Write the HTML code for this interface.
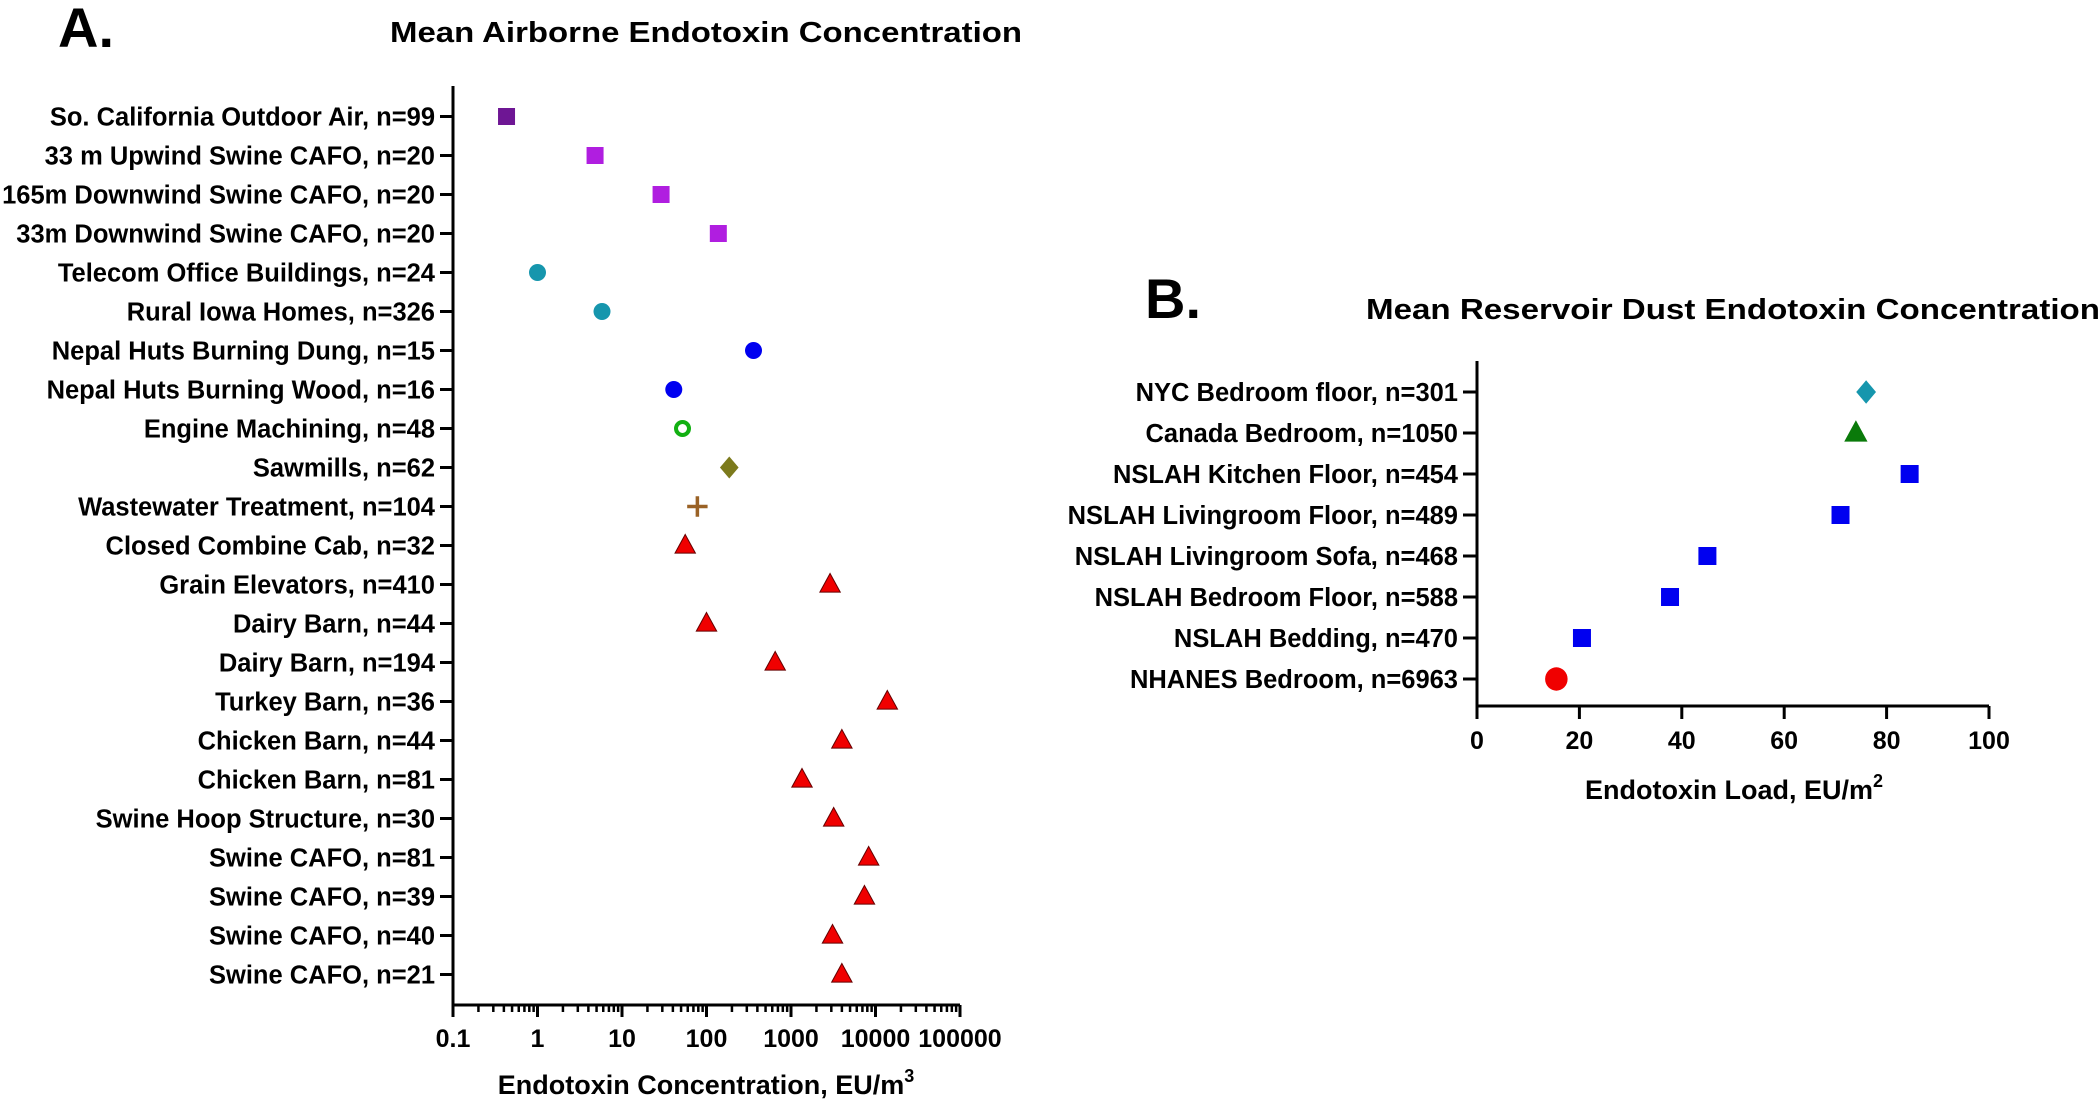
<!DOCTYPE html>
<html><head><meta charset="utf-8"><style>
html,body{margin:0;padding:0;background:#fff}
svg{display:block}
text{font-family:"Liberation Sans Narrow","Liberation Sans",sans-serif;font-weight:bold;fill:#000}
</style></head><body>
<svg id="s" width="2100" height="1100" viewBox="0 0 2100 1100" xmlns="http://www.w3.org/2000/svg">
<text x="58" y="47" font-size="56">A.</text>
<text x="390" y="42" font-size="29" textLength="632" lengthAdjust="spacingAndGlyphs">Mean Airborne Endotoxin Concentration</text>
<text x="1145" y="318" font-size="56">B.</text>
<text x="1366" y="319" font-size="29" textLength="734" lengthAdjust="spacingAndGlyphs">Mean Reservoir Dust Endotoxin Concentration</text>
<text x="706" y="1094" font-size="27" text-anchor="middle">Endotoxin Concentration, EU/m<tspan dy="-12" font-size="18">3</tspan></text>
<text x="1734" y="799" font-size="27" text-anchor="middle">Endotoxin Load, EU/m<tspan dy="-12" font-size="18">2</tspan></text>
<g id="ga"></g><g id="gb"></g>
</svg>
<script>
const aCats=["So. California Outdoor Air, n=99","33 m Upwind Swine CAFO, n=20","165m Downwind Swine CAFO, n=20","33m Downwind Swine CAFO, n=20","Telecom Office Buildings, n=24","Rural Iowa Homes, n=326","Nepal Huts Burning Dung, n=15","Nepal Huts Burning Wood, n=16","Engine Machining, n=48","Sawmills, n=62","Wastewater Treatment, n=104","Closed Combine Cab, n=32","Grain Elevators, n=410","Dairy Barn, n=44","Dairy Barn, n=194","Turkey Barn, n=36","Chicken Barn, n=44","Chicken Barn, n=81","Swine Hoop Structure, n=30","Swine CAFO, n=81","Swine CAFO, n=39","Swine CAFO, n=40","Swine CAFO, n=21"];
const aVals=[0.43,4.8,29,138,1.0,5.8,360,41,52,186,78,56,2900,100,650,13800,4000,1350,3200,8300,7400,3100,4000];
const aMarkers=["sq","sq","sq","sq","ci","ci","ci","ci","oc","di","pl","tr","tr","tr","tr","tr","tr","tr","tr","tr","tr","tr","tr"];
const aColors=["#6e1694","#b01ee0","#b01ee0","#b01ee0","#1696ad","#1696ad","#0000f0","#0000f0","#12b012","#7c7a1c","#9a6226","#f00000","#f00000","#f00000","#f00000","#f00000","#f00000","#f00000","#f00000","#f00000","#f00000","#f00000","#f00000"];
const aTicks=["0.1","1","10","100","1000","10000","100000"];
const bCats=["NYC Bedroom floor, n=301","Canada Bedroom, n=1050","NSLAH Kitchen Floor, n=454","NSLAH Livingroom Floor, n=489","NSLAH Livingroom Sofa, n=468","NSLAH Bedroom Floor, n=588","NSLAH Bedding, n=470","NHANES Bedroom, n=6963"];
const bVals=[76,74,84.5,71,45,37.7,20.5,15.5];
const bMarkers=["di","tr","sq","sq","sq","sq","sq","bc"];
const bColors=["#1696ad","#0a7a0a","#0000f0","#0000f0","#0000f0","#0000f0","#0000f0","#f00000"];
const bTicks=[0,20,40,60,80,100];
const NS="http://www.w3.org/2000/svg";
function mk(p,t,at){const e=document.createElementNS(NS,t);for(const k in at)e.setAttribute(k,at[k]);p.appendChild(e);return e;}
function marker(g,type,x,y,c,s){let e;
 if(type==="sq")e=mk(g,"rect",{x:x-s,y:y-s,width:2*s,height:2*s,fill:c});
 else if(type==="ci")e=mk(g,"circle",{cx:x,cy:y,r:s,fill:c});
 else if(type==="bc")e=mk(g,"ellipse",{cx:x,cy:y,rx:s*1.25,ry:s*1.3,fill:c});
 else if(type==="oc")e=mk(g,"circle",{cx:x,cy:y,r:s-2,fill:"none",stroke:c,"stroke-width":4});
 else if(type==="di")e=mk(g,"polygon",{points:`${x},${y-s*1.3} ${x+s*1.1},${y} ${x},${y+s*1.3} ${x-s*1.1},${y}`,fill:c});
 else if(type==="pl")e=mk(g,"path",{d:`M${x-s*1.2},${y}H${x+s*1.2}M${x},${y-s*1.2}V${y+s*1.2}`,stroke:c,"stroke-width":3.5});
 else e=mk(g,"polygon",{points:`${x},${y-s*1.3} ${x+s*1.2},${y+s*0.9} ${x-s*1.2},${y+s*0.9}`,fill:c,stroke:(c==="#f00000"?"#600":c),'stroke-width':1});
 return e;}
// Panel A
const ga=document.getElementById("ga");
const ax0=453,ax1=960,ay0=86,ayB=1005,ry0=116.5,rdy=39.0;
const xA=v=>ax0+(Math.log10(v)+1)/6*(ax1-ax0);
const yA=i=>ry0+i*rdy;
mk(ga,"path",{d:`M${ax0},${ay0}V${ayB}H${ax1}`,stroke:"#000","stroke-width":3,fill:"none"});
for(let d=-1;d<5;d++)for(let m=2;m<10;m++){const x=xA(m*Math.pow(10,d));mk(ga,"line",{x1:x,y1:ayB,x2:x,y2:ayB+7,stroke:"#000","stroke-width":2.5});}
aTicks.forEach(t=>{const x=xA(parseFloat(t));mk(ga,"line",{x1:x,y1:ayB,x2:x,y2:ayB+12,stroke:"#000","stroke-width":3});
 const tx=mk(ga,"text",{x:x,y:ayB+42,"font-size":25,"text-anchor":"middle"});tx.textContent=t;
 
 });
aCats.forEach((c,i)=>{const y=yA(i);mk(ga,"line",{x1:ax0-13,y1:y,x2:ax0,y2:y,stroke:"#000","stroke-width":3});
 const tx=mk(ga,"text",{x:ax0-18,y:y+9,"font-size":25.5,"text-anchor":"end"});tx.textContent=c;
 
 
 const m=marker(ga,aMarkers[i],xA(aVals[i]),y,aColors[i],8.5);
 
 });
// Panel B
const gb=document.getElementById("gb");
const bx0=1477,bx1=1989,by0=361,byB=706,bry0=392,brdy=41.0;
const xB=v=>bx0+v/100*(bx1-bx0);
const yB=i=>bry0+i*brdy;
mk(gb,"path",{d:`M${bx0},${by0}V${byB}H${bx1}`,stroke:"#000","stroke-width":3,fill:"none"});
bTicks.forEach(t=>{const x=xB(t);mk(gb,"line",{x1:x,y1:byB,x2:x,y2:byB+13,stroke:"#000","stroke-width":3});
 const tx=mk(gb,"text",{x:x,y:byB+43,"font-size":25,"text-anchor":"middle"});tx.textContent=t;
 
 });
bCats.forEach((c,i)=>{const y=yB(i);mk(gb,"line",{x1:bx0-14,y1:y,x2:bx0,y2:y,stroke:"#000","stroke-width":3});
 const tx=mk(gb,"text",{x:bx0-19,y:y+9,"font-size":25.5,"text-anchor":"end"});tx.textContent=c;
 
 
 const m=marker(gb,bMarkers[i],xB(bVals[i]),y,bColors[i],9);
 
 });
</script>
</body></html>
